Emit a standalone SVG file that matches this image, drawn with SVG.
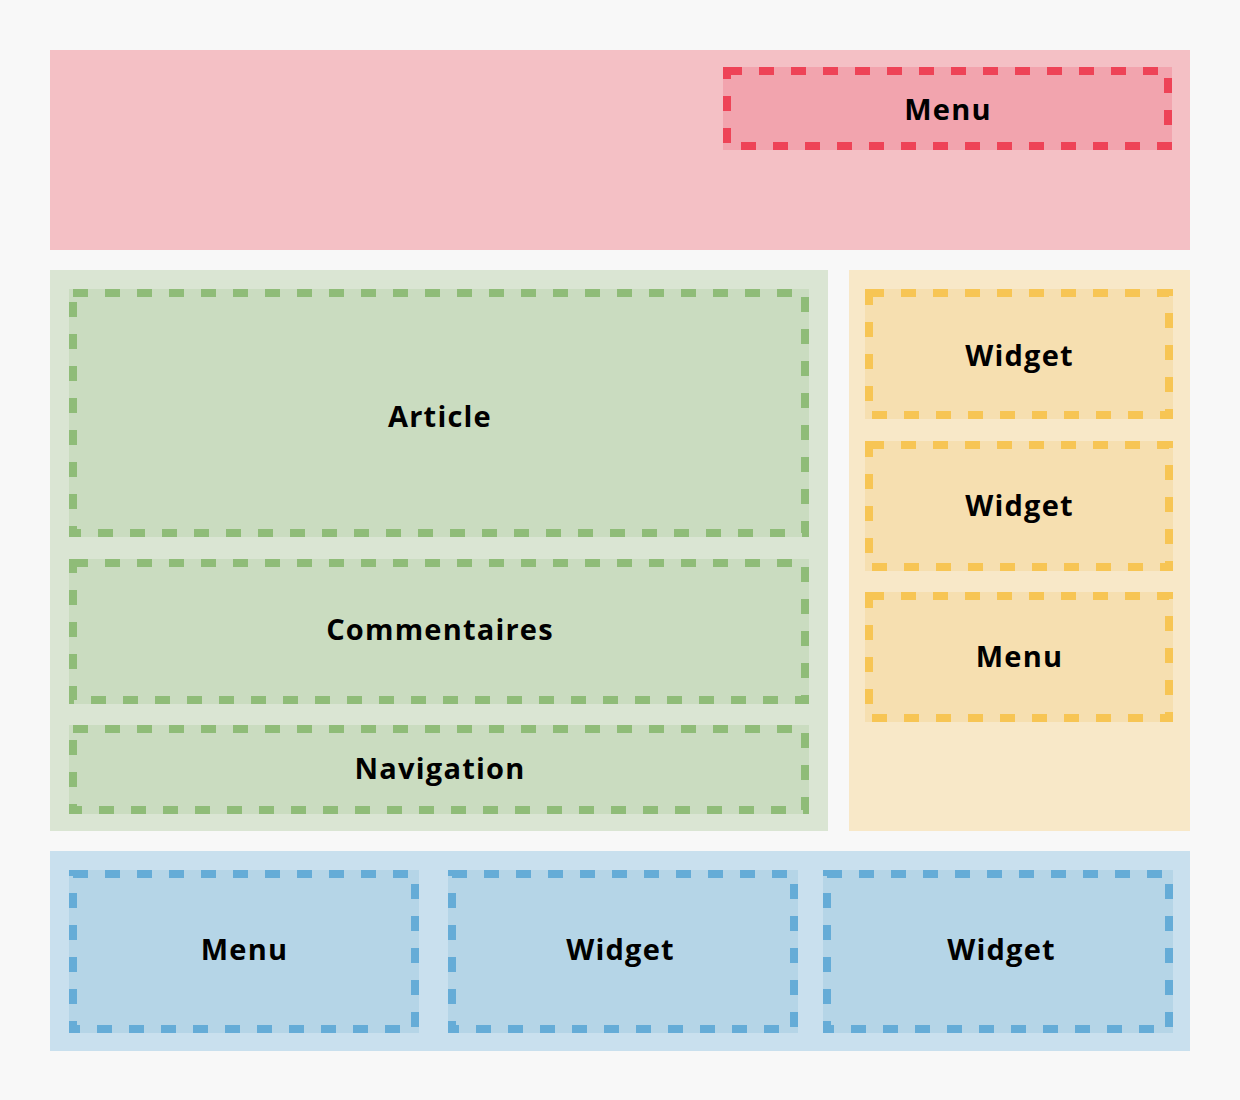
<svg xmlns="http://www.w3.org/2000/svg" width="1240" height="1100" viewBox="0 0 1240 1100">
<style>
.lbl{font-family:"Open Sans","Liberation Sans",sans-serif;font-weight:700;font-size:29px;letter-spacing:1.2px;fill:#000;text-anchor:middle;dominant-baseline:central}
.d{fill:none;stroke-width:8;stroke-dasharray:15 17}
.r .o{fill:#f4c0c5}.r .f{fill:#f2a4ae}.r .d{stroke:#ee4357}
.g .o{fill:#dae5d3}.g .f{fill:#cadcc0}.g .d{stroke:#8fbc78}
.y .o{fill:#f8e8c8}.y .f{fill:#f6dfb0}.y .d{stroke:#f7c554}
.b .o{fill:#c9e0ee}.b .f{fill:#b5d5e7}.b .d{stroke:#65acd7}
</style>
<rect width="1240" height="1100" fill="#f8f8f8"/>
<g id="header" class="r">
<rect class="o" x="50" y="50" width="1140" height="200"/>
<g id="header-menu"><rect class="f" x="723" y="67" width="449" height="83"/><rect class="d" x="727" y="71" width="441" height="75"/><text class="lbl" x="948" y="108">Menu</text></g>
</g>
<g id="main" class="g">
<rect class="o" x="50" y="270" width="778" height="561"/>
<g id="article"><rect class="f" x="69" y="289" width="740" height="248"/><rect class="d" x="73" y="293" width="732" height="240"/><text class="lbl" x="440" y="415">Article</text></g>
<g id="commentaires"><rect class="f" x="69" y="559" width="740" height="145"/><rect class="d" x="73" y="563" width="732" height="137"/><text class="lbl" x="440" y="628">Commentaires</text></g>
<g id="navigation"><rect class="f" x="69" y="725" width="740" height="89"/><rect class="d" x="73" y="729" width="732" height="81"/><text class="lbl" x="440" y="767">Navigation</text></g>
</g>
<g id="sidebar" class="y">
<rect class="o" x="849" y="270" width="341" height="561"/>
<g id="side-widget-1"><rect class="f" x="865" y="289" width="308" height="130"/><rect class="d" x="869" y="293" width="300" height="122"/><text class="lbl" x="1019.5" y="354">Widget</text></g>
<g id="side-widget-2"><rect class="f" x="865" y="441" width="308" height="130"/><rect class="d" x="869" y="445" width="300" height="122"/><text class="lbl" x="1019.5" y="504">Widget</text></g>
<g id="side-menu"><rect class="f" x="865" y="592" width="308" height="130"/><rect class="d" x="869" y="596" width="300" height="122"/><text class="lbl" x="1019.5" y="655">Menu</text></g>
</g>
<g id="footer" class="b">
<rect class="o" x="50" y="851" width="1140" height="200"/>
<g id="footer-menu"><rect class="f" x="69" y="870" width="350" height="163"/><rect class="d" x="73" y="874" width="342" height="155"/><text class="lbl" x="244.5" y="948">Menu</text></g>
<g id="footer-widget-1"><rect class="f" x="448" y="870" width="350" height="163"/><rect class="d" x="452" y="874" width="342" height="155"/><text class="lbl" x="620.5" y="948">Widget</text></g>
<g id="footer-widget-2"><rect class="f" x="823" y="870" width="350" height="163"/><rect class="d" x="827" y="874" width="342" height="155"/><text class="lbl" x="1001.5" y="948">Widget</text></g>
</g>
<g id="connectors"/>
</svg>
